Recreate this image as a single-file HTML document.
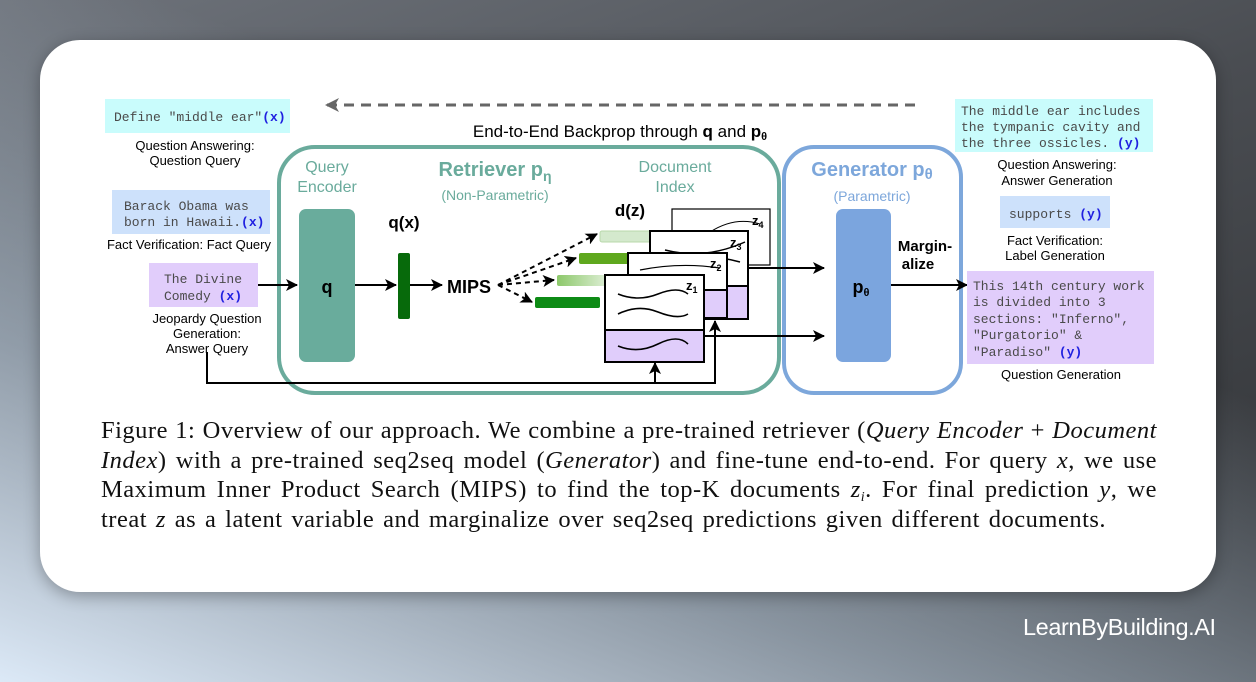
<!DOCTYPE html>
<html><head><meta charset="utf-8"><style>
html,body{margin:0;padding:0}
body{width:1256px;height:682px;overflow:hidden;position:relative;font-family:"Liberation Sans",sans-serif;
background:linear-gradient(160deg,#6e737b 0%,#4a4d52 45%,#2e3033 100%);}
.bg2{position:absolute;inset:0;background:linear-gradient(20deg,#dce9f7 0%,rgba(170,185,200,0.7) 30%,rgba(120,128,138,0) 65%);}
.card{position:absolute;left:40px;top:40px;width:1176px;height:552px;background:#fff;border-radius:40px;box-shadow:0 4px 16px rgba(0,0,0,.3)}
.cap{position:absolute;left:101px;top:416px;width:1056px;font-family:"Liberation Serif",serif;font-size:24.5px;letter-spacing:0.5px;color:#111}
.cap div{height:29.5px;line-height:29.5px;white-space:nowrap;text-align:justify;text-align-last:justify}
.cap div.last{text-align-last:left;word-spacing:2.2px}
.wm{position:absolute;left:1023px;top:614px;color:#fff;font-size:23.5px;letter-spacing:-0.4px}
svg{position:absolute;left:0;top:0}
.m{font-family:"Liberation Mono",monospace;font-size:13px;fill:#4a4a4a}
.mx{font-family:"Liberation Mono",monospace;font-size:13px;font-weight:bold;fill:#2020e0}
.l{font-size:13px;fill:#000;text-anchor:middle}
</style></head><body>
<div class="bg2"></div>
<div class="card"></div>
<svg width="1256" height="682" viewBox="0 0 1256 682">
<defs>
<marker id="a" markerWidth="12" markerHeight="12" refX="11" refY="6" orient="auto" markerUnits="userSpaceOnUse"><path d="M0,0 L12,6 L0,12 L3,6z" fill="#000"/></marker>
<marker id="g" markerWidth="14" markerHeight="14" refX="13" refY="7" orient="auto" markerUnits="userSpaceOnUse"><path d="M0,0 L14,7 L0,14 L4,7z" fill="#666"/></marker>
<linearGradient id="lg" x1="0" x2="1"><stop offset="0" stop-color="#8cc86a"/><stop offset="1" stop-color="#e6f2e0"/></linearGradient>
</defs>
<line x1="915" y1="105" x2="326" y2="105" stroke="#666" stroke-width="3" stroke-dasharray="10,7" marker-end="url(#g)"/>
<text x="620" y="137" font-size="17" text-anchor="middle">End-to-End Backprop through <tspan font-weight="bold">q</tspan> and <tspan font-weight="bold">p<tspan font-size="11" dy="3">θ</tspan></tspan></text>
<rect x="279" y="147" width="500" height="246" rx="36" fill="none" stroke="#6aab9c" stroke-width="4"/>
<rect x="784" y="147" width="177" height="246" rx="30" fill="none" stroke="#7da7db" stroke-width="4"/>
<text x="327" y="172" font-size="16" fill="#6aab9c" text-anchor="middle">Query</text>
<text x="327" y="192" font-size="16" fill="#6aab9c" text-anchor="middle">Encoder</text>
<text x="495" y="176" font-size="20" font-weight="bold" fill="#6aab9c" text-anchor="middle">Retriever p<tspan font-size="14" dy="5">η</tspan></text>
<text x="495" y="200" font-size="14" fill="#6aab9c" text-anchor="middle">(Non-Parametric)</text>
<text x="675" y="172" font-size="16" fill="#6aab9c" text-anchor="middle">Document</text>
<text x="675" y="192" font-size="16" fill="#6aab9c" text-anchor="middle">Index</text>
<text x="872" y="176" font-size="20" font-weight="bold" fill="#7da7db" text-anchor="middle">Generator p<tspan font-size="15" dy="3">θ</tspan></text>
<text x="872" y="201" font-size="14" fill="#7da7db" text-anchor="middle">(Parametric)</text>
<rect x="299" y="209" width="56" height="153" rx="7" fill="#69ac9c"/>
<text x="327" y="293" font-size="18" font-weight="bold" text-anchor="middle">q</text>
<text x="404" y="228" font-size="17" font-weight="bold" text-anchor="middle">q(x)</text>
<rect x="398" y="253" width="12" height="66" rx="2" fill="#076a0b"/>
<text x="469" y="293" font-size="18" font-weight="bold" text-anchor="middle">MIPS</text>
<line x1="258" y1="285" x2="297" y2="285" stroke="#000" stroke-width="2" marker-end="url(#a)"/>
<line x1="355" y1="285" x2="396" y2="285" stroke="#000" stroke-width="2" marker-end="url(#a)"/>
<line x1="410" y1="285" x2="442" y2="285" stroke="#000" stroke-width="2" marker-end="url(#a)"/>
<text x="630" y="216" font-size="17" font-weight="bold" text-anchor="middle">d(z)</text>
<rect x="600" y="231" width="55" height="11" rx="2" fill="#d4e9cd" stroke="#b8d8aa"/>
<rect x="579" y="253" width="55" height="11" rx="2" fill="#5fa81e"/>
<rect x="557" y="275" width="55" height="11" rx="2" fill="url(#lg)"/>
<rect x="535" y="297" width="65" height="11" rx="2" fill="#0d8b15"/>
<g stroke="#000" stroke-width="2" stroke-dasharray="5,4" fill="none">
<line x1="498" y1="285" x2="597" y2="234" marker-end="url(#a)"/>
<line x1="498" y1="285" x2="576" y2="258" marker-end="url(#a)"/>
<line x1="498" y1="285" x2="554" y2="280" marker-end="url(#a)"/>
<line x1="498" y1="285" x2="532" y2="302" marker-end="url(#a)"/>
</g>
<g stroke="#000" fill="none">
<rect x="672" y="209" width="98" height="56" fill="#fff" stroke-width="1.2"/>
<path d="M710 232 q25 -16 50 -8 M686 260 q40 -6 60 -16" stroke-width="1"/>
<text x="752" y="225" font-size="13" font-weight="bold" fill="#000" stroke="none">z<tspan font-size="9" dy="3">4</tspan></text>
<rect x="650" y="231" width="98" height="88" fill="#fff" stroke-width="2"/>
<rect x="650" y="286" width="98" height="33" fill="#e0cdfb" stroke-width="2"/>
<path d="M665 250 q40 10 80 -8 M660 262 q45 -10 80 0" stroke-width="1.5"/>
<text x="730" y="247" font-size="13" font-weight="bold" fill="#000" stroke="none">z<tspan font-size="9" dy="3">3</tspan></text>
<rect x="628" y="253" width="99" height="65" fill="#fff" stroke-width="2"/>
<rect x="628" y="290" width="99" height="28" fill="#e0cdfb" stroke-width="2"/>
<path d="M640 270 q40 -8 80 -2" stroke-width="1.2"/>
<text x="710" y="268" font-size="13" font-weight="bold" fill="#000" stroke="none">z<tspan font-size="9" dy="3">2</tspan></text>
<rect x="605" y="275" width="99" height="87" fill="#fff" stroke-width="2"/>
<rect x="605" y="330" width="99" height="32" fill="#e0cdfb" stroke-width="2"/>
<path d="M618 294 q20 8 40 0 t30 0 M618 314 q20 -10 40 -2 t30 2 M618 346 q20 8 40 -2 t30 0" stroke-width="1.6"/>
<text x="686" y="290" font-size="13" font-weight="bold" fill="#000" stroke="none">z<tspan font-size="9" dy="3">1</tspan></text>
</g>
<line x1="748" y1="268" x2="824" y2="268" stroke="#000" stroke-width="2" marker-end="url(#a)"/>
<line x1="704" y1="336" x2="824" y2="336" stroke="#000" stroke-width="2" marker-end="url(#a)"/>
<polyline points="207,352 207,383 715,383 715,321" fill="none" stroke="#000" stroke-width="2" marker-end="url(#a)"/>
<line x1="655" y1="383" x2="655" y2="363" stroke="#000" stroke-width="2" marker-end="url(#a)"/>
<rect x="836" y="209" width="55" height="153" rx="7" fill="#7ba5de"/>
<text x="861" y="293" font-size="18" font-weight="bold" text-anchor="middle">p<tspan font-size="11" dy="3">θ</tspan></text>
<text x="925" y="251" font-size="15" font-weight="bold" text-anchor="middle">Margin-</text>
<text x="918" y="269" font-size="15" font-weight="bold" text-anchor="middle">alize</text>
<line x1="891" y1="285" x2="967" y2="285" stroke="#000" stroke-width="2" marker-end="url(#a)"/>
<rect x="105" y="99" width="185" height="34" fill="#c9fcfc"/>
<text x="114" y="121" class="m">Define "middle ear"<tspan class="mx">(x)</tspan></text>
<text x="195" y="150" class="l">Question Answering:</text>
<text x="195" y="165" class="l">Question Query</text>
<rect x="112" y="190" width="158" height="44" fill="#cde1fb"/>
<text x="124" y="210" class="m">Barack Obama was</text>
<text x="124" y="226" class="m">born in Hawaii.<tspan class="mx">(x)</tspan></text>
<text x="189" y="249" class="l">Fact Verification: Fact Query</text>
<rect x="149" y="263" width="109" height="44" fill="#e1cdfb"/>
<text x="164" y="283" class="m">The Divine</text>
<text x="164" y="300" class="m">Comedy <tspan class="mx">(x)</tspan></text>
<text x="207" y="323" class="l">Jeopardy Question</text>
<text x="207" y="338" class="l">Generation:</text>
<text x="207" y="353" class="l">Answer Query</text>
<rect x="955" y="99" width="198" height="53" fill="#c9fcfc"/>
<text x="961" y="115" class="m">The middle ear includes</text>
<text x="961" y="131" class="m">the tympanic cavity and</text>
<text x="961" y="147" class="m">the three ossicles.  <tspan class="mx">(y)</tspan></text>
<text x="1057" y="169" class="l">Question Answering:</text>
<text x="1057" y="185" class="l">Answer Generation</text>
<rect x="1000" y="196" width="110" height="32" fill="#cde1fb"/>
<text x="1009" y="218" class="m">supports <tspan class="mx">(y)</tspan></text>
<text x="1055" y="245" class="l">Fact Verification:</text>
<text x="1055" y="260" class="l">Label Generation</text>
<rect x="967" y="271" width="187" height="93" fill="#e1cdfb"/>
<text x="973" y="290" class="m">This 14th century work</text>
<text x="973" y="306" class="m">is divided into 3</text>
<text x="973" y="323" class="m">sections: "Inferno",</text>
<text x="973" y="339" class="m">"Purgatorio" &amp;</text>
<text x="973" y="356" class="m">"Paradiso"     <tspan class="mx">(y)</tspan></text>
<text x="1061" y="379" class="l">Question Generation</text>
</svg>
<div class="cap">
<div>Figure 1: Overview of our approach. We combine a pre-trained retriever (<i>Query Encoder</i> + <i>Document</i></div>
<div><i>Index</i>) with a pre-trained seq2seq model (<i>Generator</i>) and fine-tune end-to-end. For query <i>x</i>, we use</div>
<div>Maximum Inner Product Search (MIPS) to find the top-K documents <i>z<span style="font-size:14px;position:relative;top:4px">i</span></i>. For final prediction <i>y</i>, we</div>
<div class="last">treat <i>z</i> as a latent variable and marginalize over seq2seq predictions given different documents.</div>
</div>
<div class="wm">LearnByBuilding.AI</div>
</body></html>
